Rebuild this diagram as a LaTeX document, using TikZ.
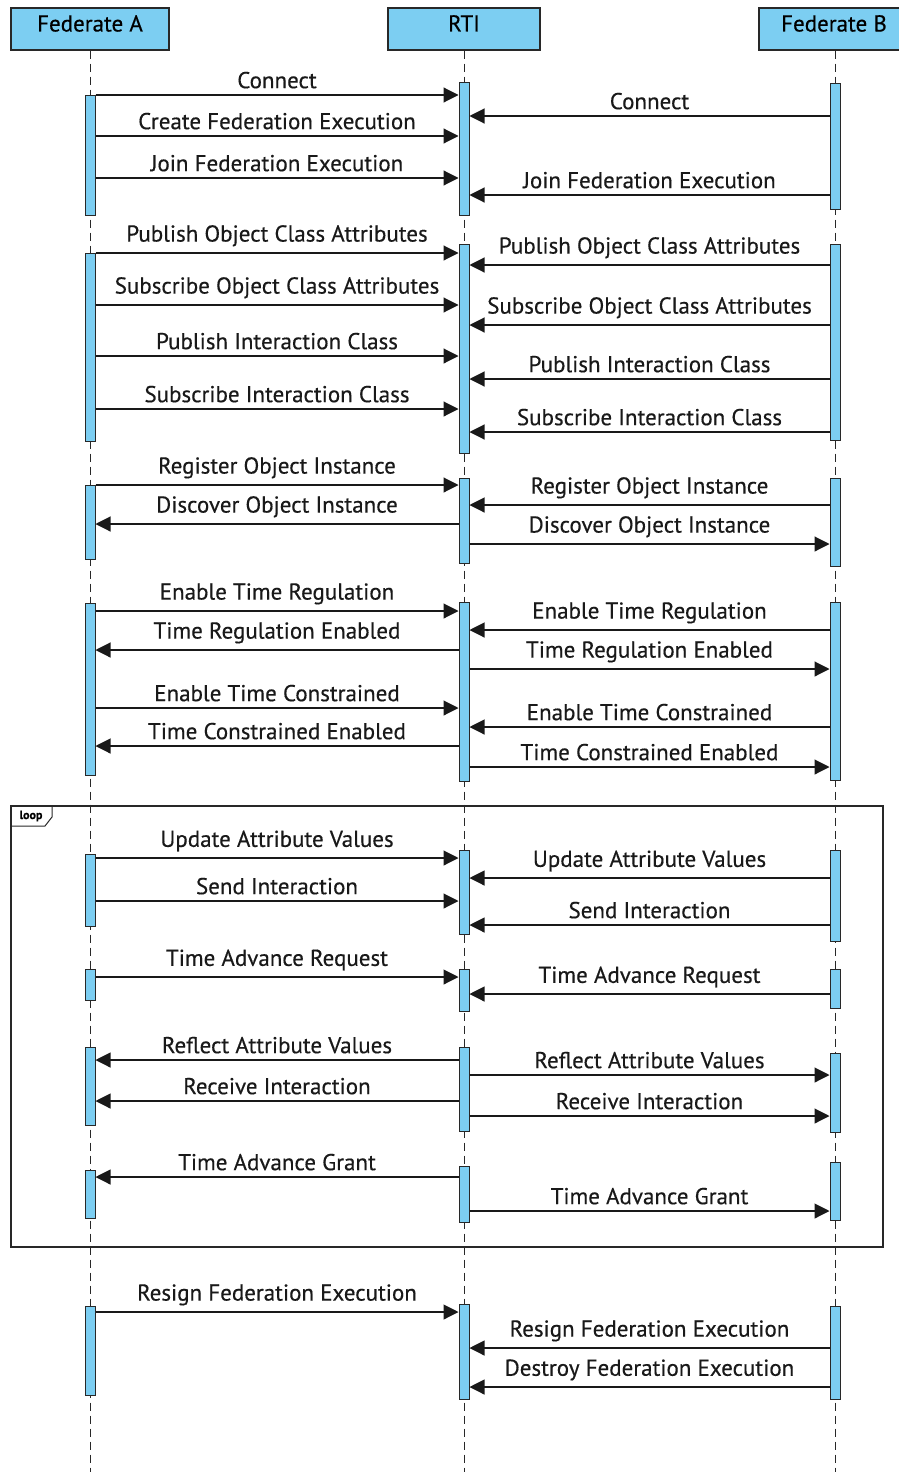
\documentclass[tikz,border=0pt]{standalone}
\usepackage{fontspec}
\setmainfont{PT Sans}[FakeBold=0.4]
\usetikzlibrary{arrows.meta, positioning, calc}
\definecolor{barColor}{RGB}{124, 206, 242}
\definecolor{lineColor}{RGB}{40, 40, 40}
\tikzstyle{header} = [rectangle, minimum height=42, text centered, draw=lineColor, line width=1.2pt, fill=barColor, inner sep=0pt, text depth=8pt, text height=13pt]
\tikzstyle{bar} = [rectangle, minimum width=10, inner sep=0pt, draw=lineColor, line width=1pt, fill=barColor]
\tikzstyle{lifeline} = [draw=lineColor, line width=1pt, dash pattern=on 8pt off 5pt]
\tikzstyle{msg} = [draw=black!90, line width=1.1pt, -{Triangle[length=15pt,width=15pt]}]
\tikzstyle{lbl} = [above, inner sep=2pt, yshift=4pt, text=black!90]

\begin{document}
\begin{tikzpicture}[x=1pt, y=-1pt, font=\fontsize{23}{26}\selectfont]
\useasboundingbox (0,0) rectangle (899,1472);

\node (fa) [header, minimum width=158] at (90,29) {Federate A};
\node (rti) [header, minimum width=152] at (464,29) {RTI};
\node (fb) [header, minimum width=150] at (834,29) {Federate B};

\coordinate (endA) at (90,1472);
\coordinate (endR) at (464,1472);
\coordinate (endB) at (835,1472);
\draw[lifeline] (fa.south) -- (endA);
\draw[lifeline] (rti.south) -- (endR);
\draw[lifeline] (fb.south -| endB) -- (endB);

% loop frame
\draw[draw=lineColor, line width=1.2pt] (11,806) rectangle (883,1247);
\draw[draw=lineColor, line width=1pt] (11,826) -- (45,826) -- (52,817) -- (52,806);
\node (looplbl) at (31,816) {\fontsize{12}{12}\selectfont\bfseries loop};

\foreach \n/\x/\t/\b in {a1/90/95/215, r1/464/82/215, b1/835/83/209,
  a2/90/253/441, r2/464/244/453, b2/835/244/440,
  a3/90/485/559, r3/464/478/563, b3/835/478/566,
  a4/90/603/775, r4/464/602/781, b4/835/602/780,
  a5/90/854/926, r5/464/850/934, b5/835/850/941,
  a6/90/969/1000, r6/464/969/1011, b6/835/969/1008,
  a7/90/1047/1125, r7/464/1047/1131, b7/835/1053/1132,
  a8/90/1170/1218, r8/464/1166/1222, b8/835/1162/1220,
  a9/90/1306/1395, r9/464/1304/1399, b9/835/1306/1399}
  \node (\n) [bar, minimum height=\b-\t] at (\x,{(\t+\b)/2}) {};

\draw[msg] (a1.east |- 0,95) -- node[lbl] {Connect} (r1.west |- 0,95);
\draw[msg] (a1.east |- 0,136) -- node[lbl] {Create Federation Execution} (r1.west |- 0,136);
\draw[msg] (a1.east |- 0,178) -- node[lbl] {Join Federation Execution} (r1.west |- 0,178);
\draw[msg] (b1.west |- 0,116) -- node[lbl] {Connect} (r1.east |- 0,116);
\draw[msg] (b1.west |- 0,195) -- node[lbl] {Join Federation Execution} (r1.east |- 0,195);

\draw[msg] (a2.east |- 0,253) -- node[lbl] {Publish Object Class Attributes} (r2.west |- 0,253);
\draw[msg] (a2.east |- 0,305) -- node[lbl] {Subscribe Object Class Attributes} (r2.west |- 0,305);
\draw[msg] (a2.east |- 0,356) -- node[lbl] {Publish Interaction Class} (r2.west |- 0,356);
\draw[msg] (a2.east |- 0,409) -- node[lbl] {Subscribe Interaction Class} (r2.west |- 0,409);
\draw[msg] (b2.west |- 0,265) -- node[lbl] {Publish Object Class Attributes} (r2.east |- 0,265);
\draw[msg] (b2.west |- 0,325) -- node[lbl] {Subscribe Object Class Attributes} (r2.east |- 0,325);
\draw[msg] (b2.west |- 0,379) -- node[lbl] {Publish Interaction Class} (r2.east |- 0,379);
\draw[msg] (b2.west |- 0,432) -- node[lbl] {Subscribe Interaction Class} (r2.east |- 0,432);

\draw[msg] (a3.east |- 0,485) -- node[lbl] {Register Object Instance} (r3.west |- 0,485);
\draw[msg] (r3.west |- 0,524) -- node[lbl] {Discover Object Instance} (a3.east |- 0,524);
\draw[msg] (b3.west |- 0,505) -- node[lbl] {Register Object Instance} (r3.east |- 0,505);
\draw[msg] (r3.east |- 0,544) -- node[lbl] {Discover Object Instance} (b3.west |- 0,544);

\draw[msg] (a4.east |- 0,611) -- node[lbl] {Enable Time Regulation} (r4.west |- 0,611);
\draw[msg] (r4.west |- 0,650) -- node[lbl] {Time Regulation Enabled} (a4.east |- 0,650);
\draw[msg] (a4.east |- 0,708) -- node[lbl] {Enable Time Constrained} (r4.west |- 0,708);
\draw[msg] (r4.west |- 0,746) -- node[lbl] {Time Constrained Enabled} (a4.east |- 0,746);
\draw[msg] (b4.west |- 0,630) -- node[lbl] {Enable Time Regulation} (r4.east |- 0,630);
\draw[msg] (r4.east |- 0,669) -- node[lbl] {Time Regulation Enabled} (b4.west |- 0,669);
\draw[msg] (b4.west |- 0,727) -- node[lbl] {Enable Time Constrained} (r4.east |- 0,727);
\draw[msg] (r4.east |- 0,767) -- node[lbl] {Time Constrained Enabled} (b4.west |- 0,767);

\draw[msg] (a5.east |- 0,858) -- node[lbl] {Update Attribute Values} (r5.west |- 0,858);
\draw[msg] (a5.east |- 0,901) -- node[lbl] {Send Interaction} (r5.west |- 0,901);
\draw[msg] (b5.west |- 0,878) -- node[lbl] {Update Attribute Values} (r5.east |- 0,878);
\draw[msg] (b5.west |- 0,925) -- node[lbl] {Send Interaction} (r5.east |- 0,925);

\draw[msg] (a6.east |- 0,977) -- node[lbl] {Time Advance Request} (r6.west |- 0,977);
\draw[msg] (b6.west |- 0,994) -- node[lbl] {Time Advance Request} (r6.east |- 0,994);

\draw[msg] (r7.west |- 0,1060) -- node[lbl] {Reflect Attribute Values} (a7.east |- 0,1060);
\draw[msg] (r7.west |- 0,1101) -- node[lbl] {Receive Interaction} (a7.east |- 0,1101);
\draw[msg] (r7.east |- 0,1075) -- node[lbl] {Reflect Attribute Values} (b7.west |- 0,1075);
\draw[msg] (r7.east |- 0,1116) -- node[lbl] {Receive Interaction} (b7.west |- 0,1116);

\draw[msg] (r8.west |- 0,1177) -- node[lbl] {Time Advance Grant} (a8.east |- 0,1177);
\draw[msg] (r8.east |- 0,1211) -- node[lbl] {Time Advance Grant} (b8.west |- 0,1211);

\draw[msg] (a9.east |- 0,1312) -- node[lbl] {Resign Federation Execution} (r9.west |- 0,1312);
\draw[msg] (b9.west |- 0,1348) -- node[lbl] {Resign Federation Execution} (r9.east |- 0,1348);
\draw[msg] (b9.west |- 0,1387) -- node[lbl] {Destroy Federation Execution} (r9.east |- 0,1387);
\end{tikzpicture}
\end{document}
